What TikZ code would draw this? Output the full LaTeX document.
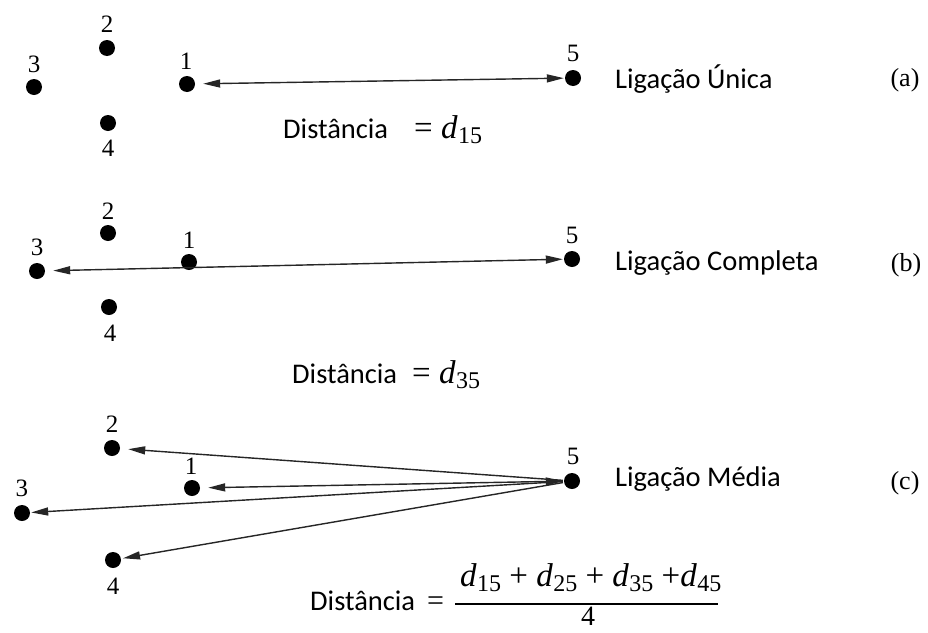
\documentclass[tikz,border=0pt]{standalone}
\usepackage{fontspec}
\setmainfont{Carlito}
\newfontfamily\serif{Liberation Serif}
\usetikzlibrary{arrows.meta}
\newcommand\dd[1]{{\itshape d}\kern0.5pt\raisebox{-5pt}{\fontsize{24}{24}\selectfont #1}}
\begin{document}
\begin{tikzpicture}[x=1pt,y=-1pt,
 dot/.style={circle,fill=black,inner sep=0pt,minimum size=16pt},
 num/.style={font=\serif\fontsize{25}{25}\selectfont,inner sep=0pt},
 lab/.style={font=\fontsize{28.5}{31}\selectfont,inner sep=0pt,anchor=west},
 tag/.style={font=\serif\fontsize{26}{26}\selectfont,inner sep=0pt},
 txt/.style={font=\fontsize{28.5}{31}\selectfont,inner sep=0pt,anchor=base west},
 eq/.style={font=\serif\fontsize{33}{33}\selectfont,inner sep=0pt,anchor=base west},
 tipa/.tip={Triangle[length=17pt,width=8pt]},
 link/.style={line width=1.4pt,draw=black!85,fill=black},
]
\useasboundingbox (0,0) rectangle (928,632);
% ---------- (a)
\node[dot] (a2) at (107,48) {};  \node[num] (a2l) at (107,24) {2};
\node[dot] (a3) at (34,87) {};   \node[num] (a3l) at (34,64) {3};
\node[dot] (a1) at (187,84) {};  \node[num] (a1l) at (186,61) {1};
\node[dot] (a4) at (108,123) {}; \node[num] (a4l) at (108,148) {4};
\node[dot] (a5) at (573,78) {};  \node[num] (a5l) at (573,53) {5};
\draw[link,tipa-tipa,shorten <=8pt,shorten >=1pt] (a1) -- (a5);
\node[lab] (la) at (615,79) {Ligação Única};
\node[tag] (ta) at (905,80) {(a)};
\node[txt] (da) at (283,138) {Distância};
\node[eq] (ea) at (414,138) {= \dd{15}};
% ---------- (b)
\node[dot] (b2) at (108,233) {};  \node[num] (b2l) at (108,211) {2};
\node[dot] (b3) at (37,271) {};   \node[num] (b3l) at (37,247) {3};
\node[dot] (b1) at (189,262) {};  \node[num] (b1l) at (189,240) {1};
\node[dot] (b4) at (109,307) {};  \node[num] (b4l) at (110,333) {4};
\node[dot] (b5) at (572,259) {};  \node[num] (b5l) at (572,235) {5};
\draw[link,tipa-tipa,shorten <=8pt,shorten >=1pt] (b3) -- (b5);
\node[lab] (lb) at (615,263) {Ligação Completa};
\node[tag] (tb) at (906,265) {(b)};
\node[txt] (db) at (292,383) {Distância};
\node[eq] (eb) at (412,383) {= \dd{35}};
% ---------- (c)
\node[dot] (c2) at (112,448) {};  \node[num] (c2l) at (112,424) {2};
\node[dot] (c1) at (192,488) {};  \node[num] (c1l) at (191,466) {1};
\node[dot] (c3) at (22,513) {};   \node[num] (c3l) at (22,488) {3};
\node[dot] (c4) at (113,560) {};  \node[num] (c4l) at (113,586) {4};
\node[dot] (c5) at (572,481) {};  \node[num] (c5l) at (573,456) {5};
\draw[link,tipa-tipa,shorten <=1pt,shorten >=8pt] (c5) -- (c1);
\draw[link,-tipa,shorten <=1pt,shorten >=8pt] (c5) -- (c2);
\draw[link,-tipa,shorten <=1pt,shorten >=1pt] (c5) -- (c3);
\draw[link,-tipa,shorten <=1pt,shorten >=2pt] (c5) -- (c4);
\node[lab] (lc) at (615,479) {Ligação Média};
\node[tag] (tc) at (905,483) {(c)};
\node[txt] (dc) at (310,610) {Distância};
\node[eq,font=\serif\fontsize{30}{30}\selectfont] (ec) at (427,610) {=};
\node[eq] (nc) at (460,586) {\dd{15} + \dd{25} + \dd{35} +\dd{45}};
\coordinate (fl) at (455,604);
\coordinate (fr) at (718,604);
\draw[line width=1.6pt] (fl) -- (fr);
\node[eq,anchor=base,font=\serif\fontsize{28}{28}\selectfont] (den) at (588,625) {4};
\end{tikzpicture}
\end{document}
